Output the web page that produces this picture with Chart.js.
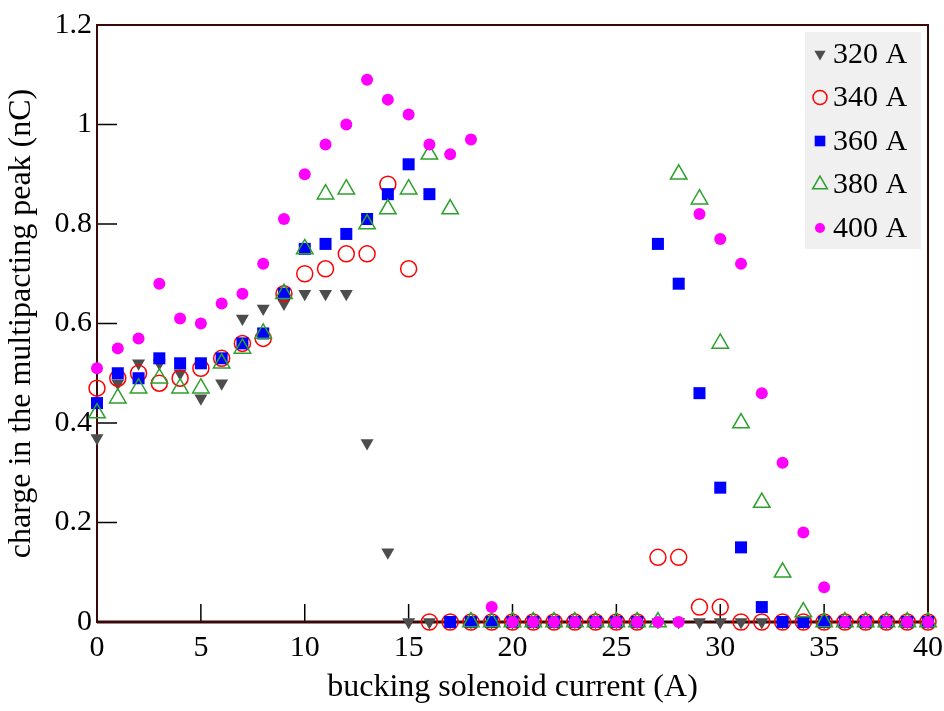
<!DOCTYPE html>
<html>
<head>
<meta charset="utf-8">
<script src="https://cdn.jsdelivr.net/npm/chart.js@4"></script>
<style>
  html, body { margin: 0; padding: 0; background: #fff; }
  #wrap { width: 944px; height: 711px; }
</style>
</head>
<body>
<div id="wrap"><canvas id="chart" width="944" height="711"></canvas></div>
<script>
// bucking solenoid current (A)
const current = [0,1,2,3,4,5,6,7,8,9,10,11,12,13,14,15,16,17,18,19,20,
                 21,22,23,24,25,26,27,28,29,30,31,32,33,34,35,36,37,38,39,40];

const seriesNames = ['320 A', '340 A', '360 A', '380 A', '400 A'];

const q320 = [0.37,0.48,0.52,0.52,0.50,0.45,0.48,0.61,0.63,0.64,0.66,0.66,0.66,0.36,0.14,
              0,0,0,0,0,0,0,0,0,0,0,0,0,0,0,0,0,0,0,0,0,0,0,0,0,0];
const q340 = [0.47,0.49,0.50,0.48,0.49,0.51,0.53,0.56,0.57,0.66,0.70,0.71,0.74,0.74,0.88,0.71,
              0,0,0,0,0,0,0,0,0,0,0,
              0.13,0.13,0.03,0.03,
              0,0,0,0,0,0,0,0,0,0];
const q360 = [0.44,0.50,0.49,0.53,0.52,0.52,0.53,0.56,0.58,0.66,0.75,0.76,0.78,0.81,0.86,0.92,0.86,
              0,0,0,0,0,0,0,0,0,0,
              0.76,0.68,0.46,0.27,0.15,0.03,
              0,0,0,0,0,0,0,0];
const q380 = [0.42,0.45,0.47,0.49,0.47,0.47,0.52,0.55,0.58,0.66,0.75,0.86,0.87,0.80,0.83,0.87,0.94,0.83,
              0,0,0,0,0,0,0,0,0,0,
              0.90,0.85,0.56,0.40,0.24,0.10,0.02,
              0,0,0,0,0,0];
const q400 = [0.51,0.55,0.57,0.68,0.61,0.60,0.64,0.66,0.72,0.81,0.90,0.96,1.00,1.09,1.05,1.02,0.96,0.94,0.97,0.03,
              0,0,0,0,0,0,0,0,0,
              0.82,0.77,0.72,0.46,0.32,0.18,0.07,
              0,0,0,0,0];

const xTicks = [0,5,10,15,20,25,30,35,40];
const yTicks = [0,0.2,0.4,0.6,0.8,1,1.2];
const yTickLabels = ['0','0.2','0.4','0.6','0.8','1','1.2'];

const FONT = "'Liberation Serif', 'Times New Roman', serif";
const FRAME = '#3a0808';

function pts(vals) {
    return current.map((c, i) => ({ x: c, y: vals[i] }));
}

const styles = [
    { style: 'triangle', rotation: 180, radius: 7.5, bg: '#4d4d4d', border: '#4d4d4d', bw: 0 },
    { style: 'circle', rotation: 0, radius: 8, bg: 'rgba(0,0,0,0)', border: '#ff0000', bw: 1.5 },
    { style: 'rect', rotation: 0, radius: 8.5, bg: '#0000ff', border: '#0000ff', bw: 0 },
    { style: 'triangle', rotation: 0, radius: 9.5, bg: 'rgba(0,0,0,0)', border: '#2ca02c', bw: 1.5 },
    { style: 'circle', rotation: 0, radius: 6, bg: '#ff00ff', border: '#ff00ff', bw: 0 }
];
const allSeries = [q320, q340, q360, q380, q400];

const datasets = allSeries.map((vals, i) => ({
    label: seriesNames[i],
    data: pts(vals),
    pointStyle: styles[i].style,
    pointRotation: styles[i].rotation,
    pointRadius: styles[i].radius,
    pointHoverRadius: styles[i].radius,
    pointBackgroundColor: styles[i].bg,
    pointBorderColor: styles[i].border,
    pointBorderWidth: styles[i].bw,
    showLine: false,
    clip: false,
    order: 5 - i
}));

// frame, inward ticks and legend box
const decor = {
    id: 'decor',
    beforeDatasetsDraw(chart) {
        const { ctx, chartArea: a, scales } = chart;
        ctx.save();
        ctx.strokeStyle = '#000';
        ctx.lineWidth = 1.5;
        xTicks.forEach(v => {
            const px = scales.x.getPixelForValue(v);
            ctx.beginPath();
            ctx.moveTo(px, a.bottom);
            ctx.lineTo(px, a.bottom - 18);
            ctx.stroke();
        });
        yTicks.forEach(v => {
            const py = scales.y.getPixelForValue(v);
            ctx.beginPath();
            ctx.moveTo(a.left, py);
            ctx.lineTo(a.left + 20, py);
            ctx.stroke();
        });
        ctx.strokeStyle = FRAME;
        ctx.lineWidth = 2;
        ctx.strokeRect(a.left, a.top, a.right - a.left, a.bottom - a.top);
        ctx.lineWidth = 3;
        ctx.beginPath();
        ctx.moveTo(a.left, a.bottom);
        ctx.lineTo(a.right, a.bottom);
        ctx.stroke();
        ctx.restore();
    },
    afterDatasetsDraw(chart) {
        const { ctx } = chart;
        ctx.save();
        const bx = 805, by = 32, bw = 116, bh = 217;
        ctx.fillStyle = '#f0f0f0';
        ctx.fillRect(bx, by, bw, bh);
        ctx.font = '30px ' + FONT;
        ctx.textBaseline = 'middle';
        seriesNames.forEach((name, i) => {
            const cy = by + 22 + i * 43.5;
            const s = styles[i];
            ctx.fillStyle = s.bg;
            ctx.strokeStyle = s.border;
            ctx.lineWidth = s.bw;
            Chart.helpers.drawPoint(ctx, {
                pointStyle: s.style, rotation: s.rotation,
                radius: s.radius - 1, borderWidth: s.bw
            }, 820, cy);
            ctx.fillStyle = '#000';
            ctx.fillText(name, 833, cy + 1);
        });
        ctx.restore();
    }
};

new Chart(document.getElementById('chart'), {
    type: 'scatter',
    data: { datasets: datasets },
    options: {
        responsive: false,
        animation: false,
        events: [],
        layout: { padding: { top: 25, right: 16, left: 0, bottom: 0 } },
        plugins: { legend: { display: false }, tooltip: { enabled: false } },
        scales: {
            x: {
                type: 'linear', min: 0, max: 40,
                afterFit: s => { s.height = 89; s.paddingLeft = 0; s.paddingRight = 0; },
                afterBuildTicks: s => { s.ticks = xTicks.map(v => ({ value: v })); },
                grid: { display: false, drawTicks: false },
                border: { display: false },
                ticks: { color: '#000', font: { family: FONT, size: 30 }, padding: 8, maxRotation: 0 },
                title: { display: true, text: 'bucking solenoid current (A)', color: '#000',
                         font: { family: FONT, size: 32 }, padding: { top: 0, bottom: 4 } }
            },
            y: {
                type: 'linear', min: 0, max: 1.2,
                afterFit: s => { s.width = 97; s.paddingTop = 0; s.paddingBottom = 0; },
                afterBuildTicks: s => { s.ticks = yTicks.map(v => ({ value: v })); },
                grid: { display: false, drawTicks: false },
                border: { display: false },
                ticks: { color: '#000', font: { family: FONT, size: 30 }, padding: 5,
                         callback: (v, i) => yTickLabels[i] },
                title: { display: true, text: 'charge in the multipacting peak (nC)', color: '#000',
                         font: { family: FONT, size: 32 }, padding: { top: 2, bottom: 0 } }
            }
        }
    },
    plugins: [decor]
});
</script>
</body>
</html>
